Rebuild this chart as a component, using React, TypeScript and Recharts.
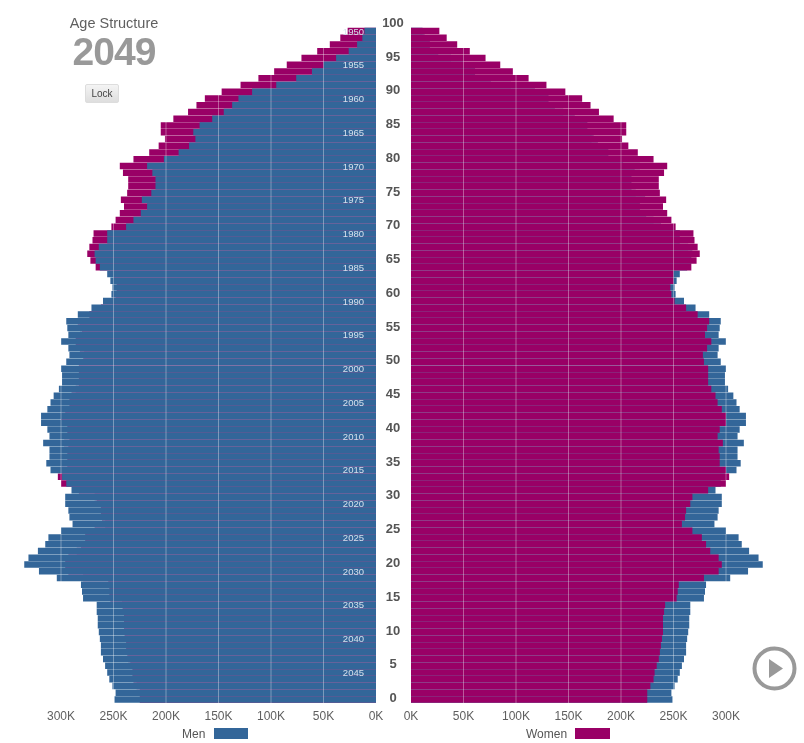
import { BarChart, Bar, XAxis, YAxis, ReferenceLine } from "recharts";

const YEAR = "2049";
const BLUE = "#336699";
const MAGENTA = "#990066";
const GRAY = "#5f5f5f";

// edades de arriba hacia abajo, 100 no tiene barra
const ages = Array.from({ length: 101 }, (_, i) => 100 - i);
const ageTicks = [100, 95, 90, 85, 80, 75, 70, 65, 60, 55, 50, 45, 40, 35, 30, 25, 20, 15, 10, 5, 0];
const yearTicks = [1950, 1955, 1960, 1965, 1970, 1975, 1980, 1985, 1990, 1995, 2000, 2005, 2010, 2015, 2020, 2025, 2030, 2035, 2040, 2045];
const xTicks = [0, 50, 100, 150, 200, 250, 300];

// miles de personas
const men = [
  0,
  11, 13, 18, 26, 38, 50, 61, 76, 95, 118,
  131, 137, 145, 156, 168, 174, 172, 178, 188, 202,
  218, 213, 210, 210, 214, 223, 218, 224, 231, 238,
  256, 256, 264, 268, 267, 263, 256, 253, 251, 252,
  260, 271, 284, 295, 294, 293, 300, 293, 292, 295,
  300, 299, 299, 302, 307, 310, 313, 319, 319, 313,
  311, 317, 311, 311, 314, 310, 299, 295, 290, 296,
  296, 293, 292, 289, 300, 312, 315, 322, 331, 335,
  321, 304, 281, 280, 279, 266, 266, 265, 265, 264,
  263, 262, 262, 260, 258, 256, 254, 251, 248, 249,
];
const women = [
  0,
  27, 34, 44, 56, 71, 85, 97, 112, 129, 147,
  163, 171, 179, 193, 205, 205, 201, 207, 216, 231,
  244, 241, 236, 236, 237, 243, 240, 244, 248, 252,
  269, 270, 273, 275, 272, 267, 250, 250, 247, 248,
  251, 262, 273, 284, 282, 280, 286, 282, 278, 279,
  283, 283, 283, 286, 290, 292, 296, 300, 300, 294,
  292, 297, 293, 294, 294, 300, 303, 300, 283, 268,
  266, 262, 261, 258, 268, 277, 281, 285, 293, 296,
  293, 279, 255, 254, 253, 242, 241, 240, 240, 240,
  239, 238, 237, 236, 234, 232, 231, 228, 225, 225,
];

const data = ages.map((age, i) => ({
  age,
  year: Number(YEAR) - age,
  men: men[i],
  women: women[i],
}));

const formatK = (v: number) => `${v}K`;
const xTickStyle = { fontSize: 12, fill: GRAY, fontFamily: "Liberation Sans" };

export default function App() {
  return (
    <div style={{ position: "absolute", left: 0, top: 0, width: 804, height: 743, background: "#fff", overflow: "hidden", fontFamily: "Liberation Sans", filter: "blur(0.4px)" }}>
      {/* Hombres: cada serie con su eje para que las barras se encimen */}
      <div style={{ position: "absolute", left: 0, top: 0 }}>
        <BarChart width={400} height={743} data={data} layout="vertical" barSize={6.5}
          margin={{ top: 21, right: 24, bottom: 0, left: 8.5 }}>
          <XAxis type="number" reversed domain={[0, 350]} ticks={xTicks} tickFormatter={formatK} height={40}
            axisLine={false} tickLine={false} tick={xTickStyle} tickMargin={2} interval={0} />
          <YAxis yAxisId="back" type="category" dataKey="year" hide />
          <YAxis yAxisId="front" type="category" dataKey="year" orientation="right" mirror width={40} ticks={yearTicks} interval={0}
            axisLine={false} tickLine={false} tickMargin={6}
            tick={{ fontSize: 9.5, fill: "#d5e0ec", fontFamily: "Liberation Sans" }} />
          <Bar yAxisId="back" dataKey="women" fill={MAGENTA} isAnimationActive={false} />
          <Bar yAxisId="front" dataKey="men" fill={BLUE} isAnimationActive={false} />
          {xTicks.slice(1).map((v) => (
            <ReferenceLine key={v} yAxisId="front" x={v} stroke="#fff" strokeOpacity={0.35} />
          ))}
        </BarChart>
      </div>

      {/* Mujeres */}
      <div style={{ position: "absolute", left: 376, top: 0 }}>
        <BarChart width={428} height={743} data={data} layout="vertical" barSize={6.5}
          margin={{ top: 21, right: 25.5, bottom: 0, left: 0 }}>
          <XAxis type="number" domain={[0, 350]} ticks={xTicks} tickFormatter={formatK} height={40}
            axisLine={false} tickLine={false} tick={xTickStyle} tickMargin={2} interval={0} />
          <YAxis yAxisId="back" type="category" dataKey="age" hide />
          <YAxis yAxisId="front" type="category" dataKey="age" width={35} ticks={ageTicks} interval={0}
            axisLine={false} tickLine={false}
            tick={(p: any) => (
              <text x={17} y={p.y} dy={-1} textAnchor="middle" dominantBaseline="middle"
                fontSize={13} fontWeight={700} fill="#555" fontFamily="Liberation Sans">
                {p.payload.value}
              </text>
            )} />
          <Bar yAxisId="back" dataKey="men" fill={BLUE} isAnimationActive={false} />
          <Bar yAxisId="front" dataKey="women" fill={MAGENTA} isAnimationActive={false} />
          {xTicks.slice(1).map((v) => (
            <ReferenceLine key={v} yAxisId="front" x={v} stroke="#fff" strokeOpacity={0.35} />
          ))}
        </BarChart>
      </div>

      {/* Titulo y controles */}
      <div style={{ position: "absolute", left: 54, top: 15, width: 120, lineHeight: "16px", textAlign: "center", fontSize: 14.5, color: GRAY }}>Age Structure</div>
      <div style={{ position: "absolute", left: 54, top: 33, width: 120, lineHeight: "38px", textAlign: "center", fontSize: 39, fontWeight: 700, color: "#999", letterSpacing: -1 }}>{YEAR}</div>
      <button style={{ position: "absolute", left: 85, top: 84, width: 34, height: 19, padding: 0, fontSize: 10, fontFamily: "Liberation Sans", color: "#444", background: "linear-gradient(#f4f4f4,#dedede)", border: "1px solid #ddd", borderRadius: 2 }}>Lock</button>

      <svg style={{ position: "absolute", left: 750, top: 645 }} width={49} height={48}>
        <circle cx={24.5} cy={23.5} r={20} fill="none" stroke="#999" strokeWidth={4} />
        <polygon points="19,14 19,33 33,23.5" fill="#999" />
      </svg>

      {/* Leyenda */}
      <div style={{ position: "absolute", left: 182, top: 727, fontSize: 12, color: "#555" }}>Men</div>
      <div style={{ position: "absolute", left: 214, top: 728, width: 34, height: 11, background: BLUE }} />
      <div style={{ position: "absolute", left: 526, top: 727, fontSize: 12, color: "#555" }}>Women</div>
      <div style={{ position: "absolute", left: 575, top: 728, width: 35, height: 11, background: MAGENTA }} />
    </div>
  );
}
